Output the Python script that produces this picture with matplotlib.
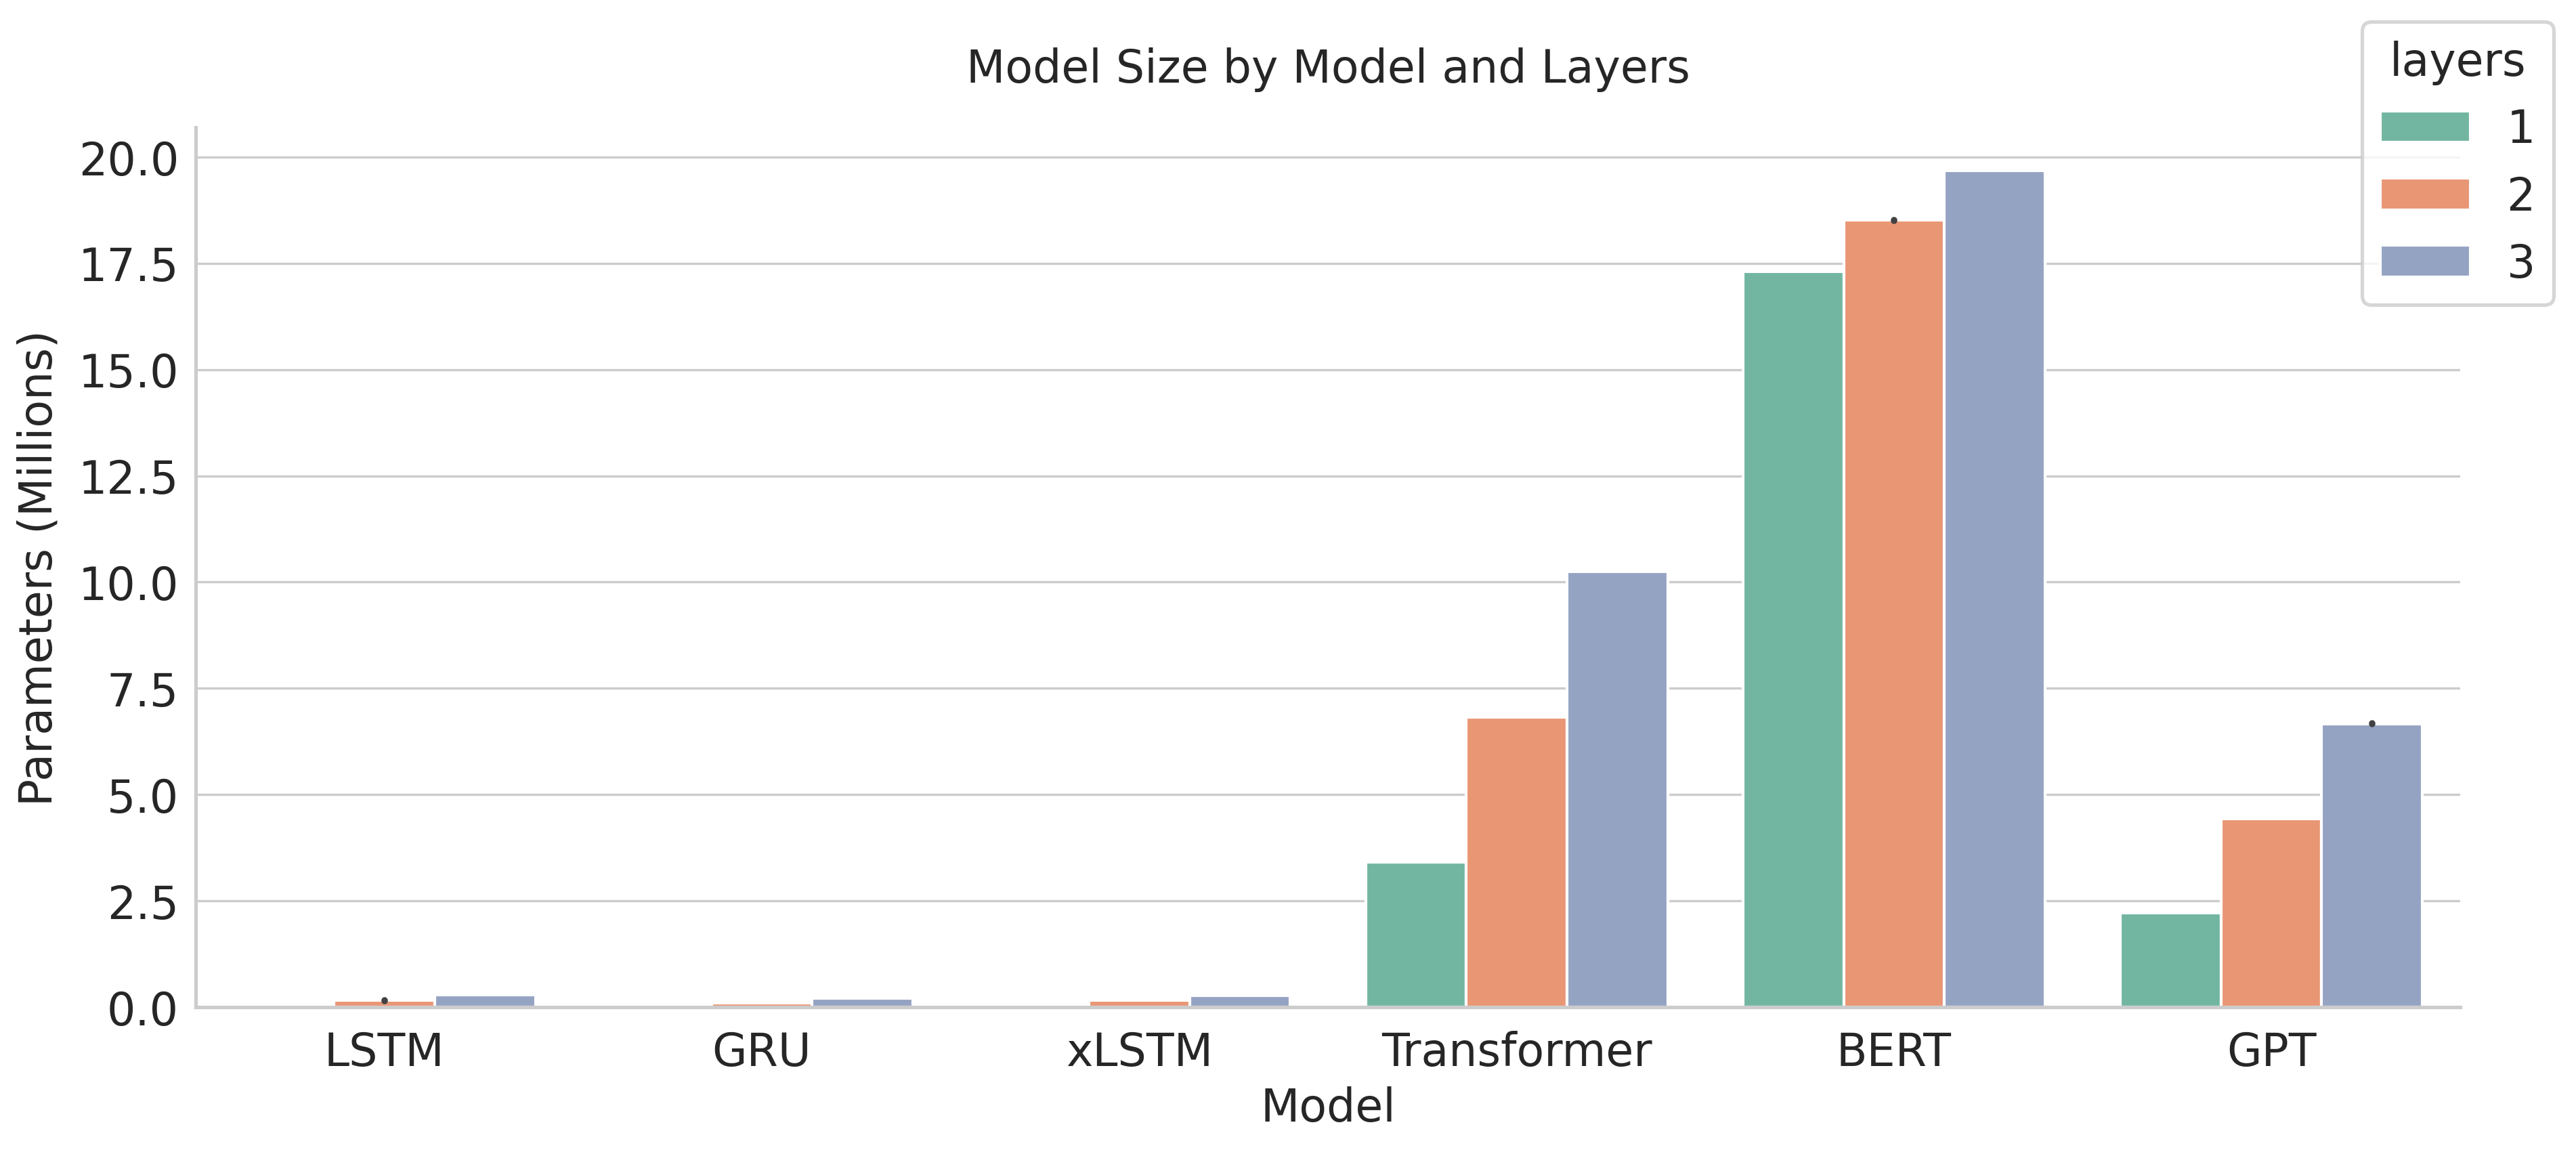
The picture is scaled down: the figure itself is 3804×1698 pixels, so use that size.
import numpy as np
import matplotlib
matplotlib.use("Agg")
import matplotlib.pyplot as plt
import seaborn as sns

# data (millions of parameters)
models = ["LSTM", "GRU", "xLSTM", "Transformer", "BERT", "GPT"]
layers = ["1", "2", "3"]
params_l1 = [0.0, 0.0, 0.05, 3.41, 17.31, 2.22]
params_l2 = [0.16, 0.10, 0.16, 6.82, 18.51, 4.44]
params_l3 = [0.29, 0.21, 0.27, 10.24, 19.68, 6.67]
# tiny spread shown as error dots
err_l1 = [0, 0, 0, 0, 0, 0]
err_l2 = [0.01, 0, 0, 0, 0.01, 0]
err_l3 = [0, 0, 0, 0, 0, 0.01]

sns.set_style("whitegrid")
plt.rcParams['font.family'] = ['DejaVu Sans']

colors = sns.color_palette("Set2", 3, desat=0.75)

fig = plt.figure(figsize=(12.68, 5.663), dpi=300)
ax = fig.add_axes([0.076, 0.124, 0.879, 0.765])

x = np.arange(len(models))
w = 0.8 / 3
series = [params_l1, params_l2, params_l3]
errs = [err_l1, err_l2, err_l3]
for i, (vals, e) in enumerate(zip(series, errs)):
    pos = x - 0.4 + w * (i + 0.5)
    ax.bar(pos, vals, width=w, color=colors[i], edgecolor="white", linewidth=1.0,
           label=layers[i], zorder=2)
    for p, v, ee in zip(pos, vals, e):
        if ee > 0:
            ax.vlines(p, v - ee, v + ee, color="#424242", linewidth=2.3,
                      capstyle="round", zorder=3)

ax.set_xlim(-0.5, len(models) - 0.5)
ax.set_ylim(0, 20.7)
ax.set_yticks(np.arange(0, 20.1, 2.5))
ax.set_xticks(x)
ax.set_xticklabels(models)
ax.tick_params(axis="both", labelsize=16, colors="#262626", length=0)
ax.tick_params(axis="x", pad=8)
ax.tick_params(axis="y", pad=6)
ax.grid(axis="x", visible=False)
ax.set_axisbelow(True)
for s in ["top", "right"]:
    ax.spines[s].set_visible(False)
for s in ["left", "bottom"]:
    ax.spines[s].set_color("#cccccc")
    ax.spines[s].set_linewidth(1.25)

ax.set_xlabel("Model", fontsize=16, color="#262626", labelpad=4)
ax.set_ylabel("Parameters (Millions)", fontsize=16, color="#262626", labelpad=6)
ax.set_title("Model Size by Model and Layers", fontsize=16, color="#262626", pad=16)

leg = fig.legend(title="layers", loc="upper right", bbox_to_anchor=(1.0, 1.0),
                 fontsize=16, title_fontsize=16, frameon=True)
leg.get_frame().set_edgecolor("#cccccc")
leg.get_frame().set_linewidth(1.25)

fig.savefig("out.png", dpi=300)
